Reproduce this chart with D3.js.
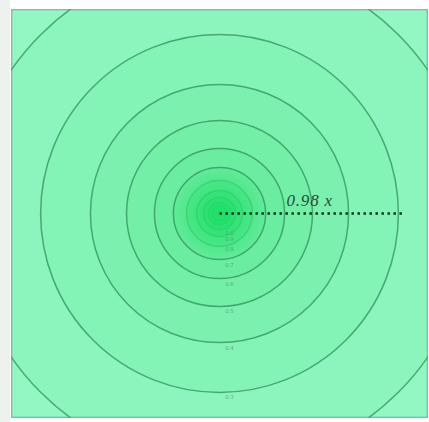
<!DOCTYPE html>
<html>
<head>
<meta charset="utf-8">
<script src="https://cdn.jsdelivr.net/npm/d3@7"></script>
<style>
  html, body { margin: 0; padding: 0; background: #ffffff; }
  svg { display: block; }
</style>
</head>
<body>
<svg id="chart" width="429" height="422"></svg>
<script>
// Contour levels (outer to inner) and the radius of each level in plot units
const levels = [0.2, 0.3, 0.4, 0.5, 0.6, 0.7, 0.8, 0.9, 1.0, 1.1, 1.2];
const radii  = [1.213, 0.858, 0.619, 0.446, 0.312, 0.221, 0.158, 0.110, 0.077, 0.053, 0.036];
// Levels that carry a printed value
const labelled = [0.3, 0.4, 0.5, 0.6, 0.7, 0.8, 0.9, 1.0];
// Radial marker: from the centre out to this x, with its caption
const markerEnd = 0.88;
const markerLabel = "0.98 x";

const W = 429, H = 422;
const svg = d3.select("#chart");

const x = d3.scaleLinear().domain([-1, 1]).range([11, 428]);
const y = d3.scaleLinear().domain([-1, 1]).range([418, 9]);
const rpx = d => x(d) - x(0);

// light frame strip on the left
svg.append("rect").attr("x", 0).attr("y", 0).attr("width", 10).attr("height", H)
  .attr("fill", "#eef2ef");

const defs = svg.append("defs");
defs.append("clipPath").attr("id", "plotClip")
  .append("rect")
  .attr("x", x(-1)).attr("y", y(1))
  .attr("width", x(1) - x(-1)).attr("height", y(-1) - y(1));

const plot = svg.append("g").attr("clip-path", "url(#plotClip)");

// base field colour
plot.append("rect")
  .attr("x", x(-1)).attr("y", y(1))
  .attr("width", x(1) - x(-1)).attr("height", y(-1) - y(1))
  .attr("fill", "#93f7c3");

const color = d3.scaleLinear()
  .domain([levels[0], levels[levels.length - 1]])
  .range(["#8cf5bd", "#22e16f"])
  .interpolate(d3.interpolateRgb.gamma(1.6));

const bands = levels.map((v, i) => ({ v, r: radii[i] }));

// filled contour bands, outermost first
plot.selectAll("circle.band")
  .data(bands)
  .join("circle")
  .attr("class", "band")
  .attr("cx", x(0)).attr("cy", y(0))
  .attr("r", d => rpx(d.r))
  .attr("fill", d => color(d.v))
  .attr("stroke", "#35965f")
  .attr("stroke-opacity", (d, i) => i < 6 ? 0.8 : 0.35)
  .attr("stroke-width", 1.5);

// soft glow at the peak
const grad = defs.append("radialGradient").attr("id", "peak");
grad.append("stop").attr("offset", "0%").attr("stop-color", "#1fe068").attr("stop-opacity", 0.9);
grad.append("stop").attr("offset", "100%").attr("stop-color", "#1fe068").attr("stop-opacity", 0);
plot.append("circle")
  .attr("cx", x(0)).attr("cy", y(0))
  .attr("r", rpx(radii[5]))
  .attr("fill", "url(#peak)");

// outer contour runs along the domain edge where it is clipped
plot.append("rect")
  .attr("x", x(-1) + 0.7).attr("y", y(1) + 0.7)
  .attr("width", x(1) - x(-1) - 1.4).attr("height", y(-1) - y(1) - 1.4)
  .attr("fill", "none")
  .attr("stroke", "#4ea877").attr("stroke-opacity", 0.55).attr("stroke-width", 1.4);

// level labels just below each ring
plot.selectAll("text.lvl")
  .data(bands.filter(d => labelled.includes(d.v)))
  .join("text")
  .attr("class", "lvl")
  .attr("x", x(0) + 10)
  .attr("y", d => y(0) + rpx(d.r) + (d.r > 0.2 ? 7 : 5))
  .attr("text-anchor", "middle")
  .attr("font-family", "DejaVu Sans, sans-serif")
  .attr("font-size", 5.5)
  .attr("fill", "#4c8a66")
  .attr("fill-opacity", 0.7)
  .text(d => d.v.toFixed(1));

// radial marker
svg.append("line")
  .attr("x1", x(0)).attr("y1", y(0))
  .attr("x2", x(markerEnd)).attr("y2", y(0))
  .attr("stroke", "#10281a")
  .attr("stroke-width", 2.4)
  .attr("stroke-dasharray", "2.4,3.6");

svg.append("text")
  .attr("x", x(0) + 67)
  .attr("y", y(0) - 8)
  .attr("font-family", "Liberation Serif, serif")
  .attr("font-style", "italic")
  .attr("font-size", 17)
  .attr("letter-spacing", 0.8)
  .attr("fill", "#2b4a38")
  .text(markerLabel);
</script>
</body>
</html>
